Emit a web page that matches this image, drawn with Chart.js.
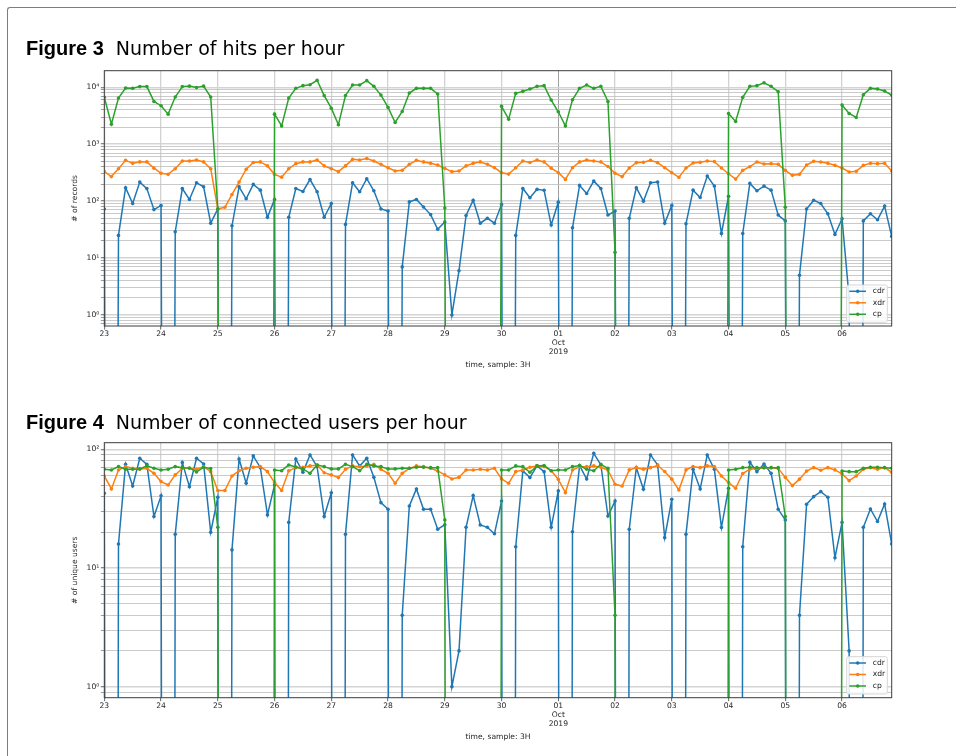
<!DOCTYPE html>
<html>
<head>
<meta charset="utf-8">
<script src="https://cdn.jsdelivr.net/npm/chart.js@4.4.1/dist/chart.umd.min.js"></script>
<style>
  html, body { margin: 0; padding: 0; background: #fff; }
  body { width: 956px; height: 756px; position: relative; overflow: hidden; }
  .frame { position: absolute; left: 7px; top: 7px; width: 990px; height: 800px;
           border-top: 1px solid #6d7f99; border-left: 1px solid #6d7f99; border-top-left-radius: 3px; }
  canvas { position: absolute; left: 0; }
  .fig-title { position: absolute; left: 26px; z-index: 2; white-space: nowrap; color: #000;
               font: 19px/24px "DejaVu Sans", sans-serif; }
  .fig-title b { font: bold 20px "Liberation Sans", sans-serif; margin-right: 6px; }
</style>
</head>
<body>
<div class="frame"></div>
<canvas id="hits" width="956" height="380" style="top:0px"></canvas>
<canvas id="users" width="956" height="376" style="top:380px"></canvas>
<div class="fig-title" style="top:36px"><b>Figure 3</b> Number of hits per hour</div>
<div class="fig-title" style="top:410px"><b>Figure 4</b> Number of connected users per hour</div>

<script>
// Sampling: one bucket every 3 hours, 23 Sep 2019 00:00 .. 06 Oct 2019 21:00
const STEP_HOURS = 3;
const dayTickLabels = ['23', '24', '25', '26', '27', '28', '29', '30',
                       ['01', 'Oct', '2019'], '02', '03', '04', '05', '06'];
const seriesNames = ['cdr', 'xdr', 'cp'];
const seriesColors = ['#1f77b4', '#ff7f0e', '#2ca02c'];

// Figure 3: number of records per bucket (one row per day: 00h 03h ... 21h)
const hitsCdr = [
  73, 0, 25, 172, 91, 216, 166, 71,          // 23
  84, 0, 29, 166, 107, 210, 179, 41,         // 24
  73, 0, 37, 179, 110, 197, 156, 52,         // 25
  107, 0, 52, 167, 148, 240, 146, 52,        // 26
  91, 0, 39, 210, 146, 248, 152, 73,         // 27
  67, 0, 7, 97, 107, 79, 58, 32,             // 28
  43, 1, 6, 56, 104, 41, 50, 41,             // 29
  87, 0, 25, 167, 115, 161, 155, 38,         // 30
  96, 0, 34, 189, 136, 225, 167, 57,         // 01 Oct
  67, 0, 50, 172, 100, 210, 216, 41,         // 02
  84, 0, 40, 156, 116, 276, 184, 27,         // 03
  122, 0, 27, 205, 152, 184, 156, 57,        // 04
  45, 0, 5, 73, 104, 91, 60, 26,             // 05
  49, 2, 0, 45, 60, 47, 82, 24               // 06
];
const hitsXdr = [
  330, 270, 372, 522, 462, 489, 489, 380,
  309, 296, 372, 508, 508, 530, 489, 372,
  73, 78, 131, 216, 364, 477, 489, 416,
  296, 264, 372, 456, 489, 489, 530, 416,
  372, 330, 416, 543, 530, 562, 508, 444,
  387, 338, 348, 444, 522, 489, 462, 431,
  377, 330, 338, 416, 462, 489, 444, 387,
  316, 299, 387, 508, 477, 530, 489, 380,
  316, 241, 387, 489, 530, 508, 489, 406,
  309, 270, 382, 475, 481, 522, 475, 387,
  316, 262, 382, 468, 481, 508, 495, 382,
  303, 244, 348, 403, 488, 450, 456, 444,
  348, 284, 296, 431, 501, 488, 462, 426,
  382, 325, 334, 426, 462, 456, 462, 338
];
const hitsCp = [
  6700, 2250, 6500, 9700, 9600, 10300, 10300, 5650,
  4750, 3380, 6750, 10300, 10500, 9900, 10500, 6750,
  73, 0, 0, 0, 0, 0, 0, 0,
  3380, 2100, 6500, 9600, 10700, 11100, 13300, 7140,
  4300, 2200, 7200, 11000, 11000, 13100, 10400, 7300,
  4440, 2410, 3770, 7940, 9600, 9600, 9600, 7630,
  76, 0, 0, 0, 0, 0, 0, 0,
  4630, 2760, 7830, 8500, 9350, 10400, 10700, 5980,
  3720, 2100, 6050, 9600, 11000, 9600, 10400, 5650,
  12.6, 0, 0, 0, 0, 0, 0, 0,
  0, 0, 0, 0, 0, 0, 0, 0,
  3470, 2510, 6670, 10400, 10700, 12000, 10400, 8380,
  78, 0, 0, 0, 0, 0, 0, 0,
  4880, 3470, 2950, 7420, 9600, 9350, 8600, 7300
];

// Figure 4: number of unique users per bucket
const usersCdr = [
  42.6, 0, 15.9, 74.7, 49, 84, 74.7, 27.1,
  40.5, 0, 19.2, 77.2, 48.4, 84, 75.2, 20,
  39.4, 0, 14.2, 82.9, 51.7, 87.9, 70, 28,
  50, 0, 24.2, 82.9, 64, 89.6, 71.4, 27.1,
  43, 0, 19.2, 89.6, 72.4, 84, 58, 35.5,
  31.2, 0, 4, 33.3, 46.3, 31.2, 31.2, 21.2,
  23.1, 1, 2, 22, 40.7, 23, 22, 19.4,
  36.6, 0, 15.1, 65.7, 57.7, 72.4, 64.8, 22,
  44.6, 0, 20.2, 72.9, 56.2, 92.5, 73.8, 27.4,
  36.6, 0, 21.2, 70, 46, 89.6, 73.8, 18,
  37.9, 0, 19.2, 67.8, 46.3, 89.6, 67.8, 21.9,
  47, 0, 15.1, 77.7, 64.8, 75.2, 62.7, 31.2,
  25.4, 0, 4, 34.4, 39.9, 44, 39.4, 12.2,
  24.2, 2, 0, 22, 31.4, 24.6, 34.6, 15.9
];
const usersXdr = [
  59.6, 46.3, 66.9, 71.4, 69.1, 67.8, 69.1, 62.7,
  53.4, 50, 60.8, 69.1, 69.1, 67.8, 71.4, 64.8,
  44.9, 44.9, 59.6, 66, 69.1, 70.5, 71.4, 64.8,
  52.4, 44.9, 66, 70, 70.5, 72.4, 73.8, 63.5,
  60.8, 57.7, 67.8, 72.4, 71.4, 72.4, 74.7, 67.8,
  62.7, 51.7, 62.7, 69.1, 72.4, 71.4, 69.1, 65.7,
  60.8, 56.2, 58, 66.9, 66.9, 67.8, 66.9, 69.1,
  56.2, 51.7, 64.8, 66.9, 70.5, 72.4, 71.4, 66,
  55.8, 43.1, 66.9, 71.4, 71.4, 72.4, 70.5, 66.9,
  50.7, 49, 67, 70, 68, 70, 73, 65,
  56, 45.4, 67, 71.5, 70, 72.5, 71.5, 59.6,
  52.4, 46.9, 62.5, 68, 69, 70, 70, 69,
  58, 49.4, 56, 65.5, 70, 66.5, 70, 67,
  62, 54.4, 59.6, 68, 70, 68, 70, 64
];
const usersCp = [
  67.8, 66.9, 71.4, 67.8, 67.8, 68.3, 72.4, 69.1,
  66.9, 67.8, 71.4, 70, 69.6, 64.4, 70.5, 68.7,
  22, 0, 0, 0, 0, 0, 0, 0,
  66.9, 66, 73.8, 71, 68.3, 62.7, 73.8, 71.4,
  68.3, 68.3, 74.7, 71.4, 66, 74.7, 72.4, 71.4,
  68.3, 68.3, 69.1, 69.1, 70.5, 70.5, 70, 70,
  25.4, 0, 0, 0, 0, 0, 0, 0,
  66.9, 66.9, 72.4, 71.4, 64, 72.4, 72.9, 66,
  66.9, 66.9, 71.4, 72.9, 67.8, 66, 74.7, 69.1,
  4, 0, 0, 0, 0, 0, 0, 0,
  0, 0, 0, 0, 0, 0, 0, 0,
  66.9, 67.8, 70, 70.5, 70, 70, 70, 70,
  27.1, 0, 0, 0, 0, 0, 0, 0,
  65.7, 64.8, 64.8, 69.1, 70.5, 70.5, 70, 69.1
];

// y-axis limits of the two log plots
const hitsRange = [0.64, 19600];
const usersRange = [0.807, 113.6];

// ---------------------------------------------------------------------------
const LOG_FLOOR = 1e-30;   // empty buckets plunge off the bottom of the log axis
const FONT = 'DejaVu Sans';
const TEXT = '#262626';

Chart.defaults.font.family = FONT;
Chart.defaults.color = TEXT;

const SUP = { '-': '⁻', '0': '⁰', '1': '¹', '2': '²', '3': '³', '4': '⁴',
              '5': '⁵', '6': '⁶', '7': '⁷', '8': '⁸', '9': '⁹' };
const superscript = n => String(n).split('').map(c => SUP[c]).join('');
const isDecade = v => { const e = Math.log10(v); return Math.abs(e - Math.round(e)) < 1e-6; };

// spines on all four sides, drawn over the lines
const framePlugin = {
  id: 'frame',
  afterDatasetsDraw(chart) {
    const { ctx, chartArea: a } = chart;
    ctx.save();
    ctx.strokeStyle = '#3c3c3c';
    ctx.lineWidth = 1;
    ctx.strokeRect(a.left, a.top, a.right - a.left, a.bottom - a.top);
    ctx.restore();
  }
};

// legend box in the lower right corner of the plot area
const innerLegendPlugin = {
  id: 'innerLegend',
  afterDraw(chart) {
    const { ctx, chartArea: a } = chart;
    const w = 40.6, h = 37.3;
    const x0 = a.right - 4.4 - w, y0 = a.bottom - 3.7 - h;
    ctx.save();
    ctx.beginPath();
    if (ctx.roundRect) ctx.roundRect(x0, y0, w, h, 2); else ctx.rect(x0, y0, w, h);
    ctx.fillStyle = 'rgba(255,255,255,0.85)';
    ctx.fill();
    ctx.strokeStyle = '#d6d6d6';
    ctx.lineWidth = 1;
    ctx.stroke();
    ctx.font = '7.6px "' + FONT + '"';
    ctx.textBaseline = 'middle';
    ctx.textAlign = 'left';
    chart.data.datasets.forEach((ds, i) => {
      const y = y0 + 6.3 + i * 11.5;
      ctx.strokeStyle = ds.borderColor;
      ctx.lineWidth = 1.5;
      ctx.beginPath();
      ctx.moveTo(x0 + 2.6, y);
      ctx.lineTo(x0 + 19.3, y);
      ctx.stroke();
      ctx.fillStyle = ds.borderColor;
      ctx.beginPath();
      ctx.arc(x0 + 11, y, 1.8, 0, Math.PI * 2);
      ctx.fill();
      ctx.fillStyle = TEXT;
      ctx.fillText(ds.label, x0 + 26, y);
    });
    ctx.restore();
  }
};

function makeChart(canvasId, series, yTitle, yRange, padTop, padBottom) {
  const n = series[0].length;
  const hours = Array.from({ length: n }, (_, i) => i * STEP_HOURS);
  const datasets = series.map((values, s) => ({
    label: seriesNames[s],
    data: values.map((v, i) => ({ x: hours[i], y: v > 0 ? v : LOG_FLOOR })),
    borderColor: seriesColors[s],
    backgroundColor: seriesColors[s],
    pointBackgroundColor: seriesColors[s],
    pointBorderWidth: 0,
    pointRadius: ctx => (values[ctx.dataIndex] > 0 ? 1.8 : 0),
    borderWidth: 1.5,
    tension: 0,
    clip: 0,
    order: series.length - s
  }));

  return new Chart(document.getElementById(canvasId), {
    type: 'line',
    data: { datasets },
    plugins: [framePlugin, innerLegendPlugin],
    options: {
      responsive: false,
      animation: false,
      events: [],
      layout: { padding: { left: 70, right: 64.3, top: padTop, bottom: padBottom } },
      plugins: { legend: { display: false }, tooltip: { enabled: false } },
      scales: {
        x: {
          type: 'linear',
          bounds: 'data',
          min: 0,
          max: hours[n - 1],
          afterBuildTicks: scale => {
            scale.ticks = dayTickLabels.map((_, d) => ({ value: d * 24 }));
          },
          afterFit: scale => { scale.height = 43.56; },
          ticks: {
            autoSkip: false,
            maxRotation: 0,
            padding: 0.3,
            font: { size: 7.6, lineHeight: 1.18 },
            color: TEXT,
            callback: (v, i) => dayTickLabels[i]
          },
          grid: {
            color: ctx => (ctx.tick && ctx.tick.value === 8 * 24 ? '#a0a0a0' : '#d2d2d2'),
            lineWidth: ctx => (ctx.tick && ctx.tick.value === 8 * 24 ? 1 : 1.3),
            tickLength: 3.5,
            tickColor: '#3c3c3c',
            tickWidth: 0.8
          },
          border: { display: false },
          title: {
            display: true,
            text: 'time, sample: 3H',
            font: { size: 7.6 },
            color: TEXT,
            padding: { top: 0, bottom: 0 }
          }
        },
        y: {
          type: 'logarithmic',
          bounds: 'data',
          min: yRange[0],
          max: yRange[1],
          afterBuildTicks: scale => {
            const ticks = [];
            const e0 = Math.floor(Math.log10(scale.min));
            const e1 = Math.ceil(Math.log10(scale.max));
            for (let e = e0; e <= e1; e++) {
              for (let k = 1; k <= 9; k++) {
                const v = k * Math.pow(10, e);
                if (v >= scale.min && v <= scale.max) ticks.push({ value: v });
              }
            }
            scale.ticks = ticks;
          },
          afterFit: scale => { scale.width = 34.3; },
          ticks: {
            autoSkip: false,
            padding: 1.5,
            font: { size: 7.6 },
            color: TEXT,
            callback: v => (isDecade(v) ? '10' + superscript(Math.round(Math.log10(v))) : '')
          },
          grid: {
            color: ctx => (ctx.tick && isDecade(ctx.tick.value) ? '#d4d4d4' : '#bcbcbc'),
            lineWidth: ctx => (ctx.tick && isDecade(ctx.tick.value) ? 1.5 : 0.8),
            tickLength: 3.5,
            tickColor: '#3c3c3c',
            tickWidth: ctx => (ctx.tick && isDecade(ctx.tick.value) ? 0.8 : 0.5)
          },
          border: { display: false },
          title: {
            display: true,
            text: yTitle,
            font: { size: 7.6 },
            color: TEXT,
            padding: { top: 0, bottom: 0 }
          }
        }
      }
    }
  });
}

makeChart('hits', [hitsCdr, hitsXdr, hitsCp], '# of records', hitsRange, 70.7, 10.44);
makeChart('users', [usersCdr, usersXdr, usersCp], '# of unique users', usersRange, 62.7, 14.74);
</script>
</body>
</html>
